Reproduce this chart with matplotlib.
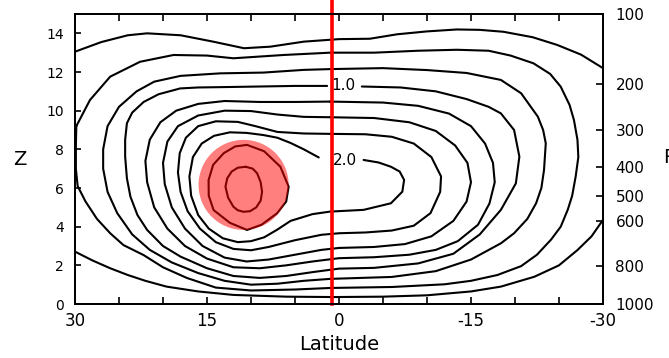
import matplotlib
matplotlib.use("Agg")
import matplotlib.pyplot as plt
from matplotlib.patches import Ellipse
from matplotlib.ticker import MultipleLocator

# contour lines: latitude (deg) and height Z for each level
c025_top_lat = [30, 27, 24, 21.8, 18, 14.3, 10.8, 7.8, 4, 0, -3.5, -6.6, -10, -13.4, -16, -18.7, -22, -24.8, -27.5, -30]
c025_top_z = [13.05, 13.55, 13.9, 14.0, 13.9, 13.57, 13.23, 13.31, 13.57, 13.7, 13.72, 13.95, 14.1, 14.2, 14.18, 14.08, 13.8, 13.4, 12.9, 12.2]

c025_bot_lat = [30, 28, 26, 24, 22, 19.6, 16, 12, 6, 0.6, -5, -10, -15, -18.4, -22.2, -25, -27.1, -28.7, -30]
c025_bot_z = [2.71, 2.25, 1.85, 1.5, 1.2, 0.9, 0.65, 0.47, 0.38, 0.36, 0.38, 0.45, 0.65, 0.9, 1.41, 2.0, 2.79, 3.5, 4.35]

c050_lat = [29.85, 28.3, 26.0, 22.6, 18.8, 15, 12, 6.3, 1, -4, -9, -13.4, -17, -19.5, -22.1, -24, -25.2, -26.2,
            -26.7, -27.1, -27.2, -26.9, -26.5, -26.0, -25.2, -24.1, -22.5, -20.7, -18, -15, -12, -6, 1, 5, 10,
            14, 17.3, 20, 22.2, 24.5, 26.0, 27.5, 28.8, 29.7, 29.9, 29.9, 29.85]
c050_z = [9.2, 10.55, 11.76, 12.53, 12.88, 12.85, 12.71, 12.88, 13.0, 13.0, 13.1, 13.15, 13.1, 12.85, 12.45, 11.9,
          11.24, 10.3, 9.52, 8.5, 7.6, 6.6, 5.6, 4.88, 4.0, 3.33, 2.55, 1.96, 1.5, 1.2, 1.02, 0.88, 0.83, 0.75,
          0.7, 0.85, 1.35, 1.9, 2.53, 3.05, 3.66, 4.4, 5.3, 6.1, 7.0, 8.2, 9.2]

c075_lat = [1, 4, 8.6, 13.5, 18, 21, 23, 25, 26.3, 26.8, 26.8, 26.3, 25.2, 23.5, 21.5, 19, 16, 13, 10, 7, 4, 1,
            -6, -11, -15, -18.4, -19.9, -21.4, -22.4, -23.0, -23.3, -23.5, -23.2, -22.6, -20.7, -18.4, -14.5,
            -10, -5, 1]
c075_z = [12.15, 12.11, 11.97, 11.93, 11.8, 11.5, 11.0, 10.2, 9.2, 8.0, 7.0, 5.8, 4.7, 3.6, 2.8, 2.15, 1.6, 1.2,
          1.0, 1.05, 1.2, 1.3, 1.4, 1.7, 2.3, 3.14, 3.66, 4.4, 5.21, 6.0, 6.93, 8.31, 9.0, 9.69, 10.9, 11.59,
          11.95, 12.1, 12.2, 12.15]

c100_lat = [1.35, 5, 9, 13, 16, 18.05, 20.5, 22.2, 23.5, 24.1, 24.3, 24.3, 24.1, 23.7, 22.9, 21.8, 20, 18, 15,
            12, 9, 6, 3, 0, -4, -9, -13, -16, -18.4, -20.1, -20.5, -19.9, -18.4, -17, -14.5, -11, -7, -2.6]
c100_z = [11.28, 11.28, 11.25, 11.22, 11.2, 11.15, 10.85, 10.45, 9.9, 9.35, 8.5, 7.62, 6.5, 5.55, 4.6, 3.83,
          3.0, 2.45, 1.85, 1.45, 1.35, 1.45, 1.65, 1.83, 1.87, 2.1, 2.6, 3.6, 4.87, 6.24, 7.62, 9.0, 9.86,
          10.2, 10.6, 11.0, 11.2, 11.25]

c125_lat = [1, 5, 9, 13, 16, 18.5, 20.3, 21.5, 22.0, 21.8, 21.0, 19.5, 17.5, 15, 12, 9, 6, 3, 0, -4, -8, -11,
            -13.5, -15.8, -17.1, -17.7, -17.5, -16.6, -15, -12.5, -9, -5, 1]
c125_z = [10.47, 10.45, 10.45, 10.5, 10.35, 10.0, 9.4, 8.5, 7.4, 6.3, 5.0, 3.9, 3.0, 2.35, 1.9, 1.85, 2.0, 2.2,
          2.37, 2.42, 2.55, 2.8, 3.25, 4.1, 5.2, 6.3, 7.3, 8.3, 9.2, 9.85, 10.25, 10.42, 10.47]

c150_lat = [1, 4, 7, 10, 13, 16, 18.3, 19.5, 20.0, 19.8, 19.0, 17.5, 15.5, 13, 10.5, 8, 5, 2, 0, -4, -7.5,
            -10.5, -13, -14.5, -15, -14.6, -13.2, -11, -8, -4, 1]
c150_z = [9.66, 9.68, 9.8, 9.98, 10.0, 9.75, 9.2, 8.4, 7.3, 6.2, 5.0, 3.9, 3.0, 2.4, 2.2, 2.3, 2.55, 2.8, 2.9,
          2.95, 3.1, 3.5, 4.3, 5.3, 6.3, 7.3, 8.2, 8.95, 9.4, 9.62, 9.66]

c175_lat = [1, 4, 7, 9.5, 11.5, 14, 16, 17.4, 18.1, 18.3, 18.0, 17.2, 15.8, 14, 12, 10, 8, 5, 2, 0, -3, -6,
            -8.5, -10.4, -11.5, -11.6, -10.5, -8.5, -6, -3, 1]
c175_z = [8.80, 8.82, 8.9, 9.2, 9.42, 9.45, 9.2, 8.6, 7.8, 6.8, 5.8, 4.8, 3.9, 3.2, 2.85, 2.78, 2.95, 3.3, 3.58,
          3.66, 3.7, 3.8, 4.05, 4.7, 5.8, 6.6, 7.6, 8.3, 8.65, 8.78, 8.80]

c200_lat = [2.3, 4, 5.5, 7, 8.6, 10.5, 12.4, 14.2, 15.6, 16.6, 17.0, 16.8, 16.0, 14.8, 13.2, 11.5, 10, 8.5, 7,
            5.5, 3, 1, -2.8, -5.9, -7.2, -7.4, -6.9, -5.9, -4.5, -2.8]
c200_z = [7.58, 8.0, 8.33, 8.6, 8.74, 8.85, 8.88, 8.7, 8.3, 7.6, 6.6, 5.6, 4.6, 3.9, 3.4, 3.2, 3.25, 3.45, 3.85,
          4.3, 4.65, 4.78, 4.87, 5.21, 5.81, 6.42, 6.85, 7.1, 7.32, 7.45]

c225_lat = [10.45, 8.5, 6.66, 5.72, 6.0, 7.04, 8.8, 10.45, 12.4, 14.25, 14.8, 14.82, 14.3, 13.1, 11.8, 10.45]
c225_z = [8.23, 7.9, 7.1, 6.07, 5.3, 4.69, 4.1, 3.83, 4.2, 4.86, 5.6, 6.41, 7.2, 7.8, 8.15, 8.23]

c250_lat = [10.6, 9.8, 9.3, 8.9, 8.74, 8.9, 9.4, 10.1, 10.85, 11.5, 12.0, 12.6, 12.9, 12.7, 12.2, 11.5, 10.6]
c250_z = [7.1, 7.0, 6.76, 6.3, 5.8, 5.35, 5.0, 4.8, 4.77, 4.85, 5.03, 5.5, 6.07, 6.5, 6.85, 7.05, 7.1]

# contour labels (text, lat, Z)
label_text = ["1.0", "2.0"]
label_lat = [-0.55, -0.65]
label_z = [11.3, 7.42]

# right axis: pressure (mb) and the height it sits at
p_labels = ["100", "200", "300", "400", "500", "600", "800", "1000"]
p_z = [15.0, 11.4, 9.0, 7.1, 5.6, 4.3, 1.97, 0.0]

# highlighted core and the red marker line
core_lat, core_z, core_r_lat = 10.84, 6.16, 5.12
marker_lat = 0.85

lines = [
    (c025_top_lat, c025_top_z), (c025_bot_lat, c025_bot_z), (c050_lat, c050_z), (c075_lat, c075_z),
    (c100_lat, c100_z), (c125_lat, c125_z), (c150_lat, c150_z), (c175_lat, c175_z),
    (c200_lat, c200_z), (c225_lat, c225_z), (c250_lat, c250_z),
]

fig = plt.figure(figsize=(6.69, 3.58), dpi=100)
ax = fig.add_axes([0.1121, 0.1508, 0.7892, 0.8101])
ax.set_xlim(30, -30)
ax.set_ylim(0, 15)

for lat, z in lines:
    ax.plot(lat, z, color="black", lw=1.5, solid_joinstyle="round", solid_capstyle="round")

for t, la, zz in zip(label_text, label_lat, label_z):
    ax.text(la, zz, t, ha="center", va="center", fontsize=11, color="black")

# circle in screen terms -> ellipse in data units
ax_w = 0.7892 * 669
ax_h = 0.8101 * 358
r_z = core_r_lat * (ax_w / 60) / (ax_h / 15)
ax.add_patch(Ellipse((core_lat, core_z), 2 * core_r_lat, 2 * r_z, facecolor="red", alpha=0.5,
                     edgecolor="none", zorder=4))

ax.axvline(marker_lat, ymin=0, ymax=1.05, color="red", lw=2.6, clip_on=False, zorder=6)

ax.set_xticks([30, 15, 0, -15, -30])
ax.set_xticklabels(["30", "15", "0", "-15", "-30"])
ax.xaxis.set_minor_locator(MultipleLocator(5))
ax.tick_params(axis="x", which="both", direction="in", top=True, length=5, width=1.2, labelsize=12, pad=6)
ax.set_yticks(range(0, 15, 2))
ax.tick_params(axis="y", direction="in", length=4, width=1.2, labelsize=10, pad=8)
for s in ax.spines.values():
    s.set_linewidth(1.3)

ax2 = ax.twinx()
ax2.set_ylim(0, 15)
ax2.set_yticks(p_z)
ax2.set_yticklabels(p_labels)
ax2.tick_params(axis="y", direction="in", length=5, width=1.2, labelsize=11, pad=9)
for s in ax2.spines.values():
    s.set_linewidth(1.3)

ax.set_xlabel("Latitude", fontsize=14, labelpad=3)
ax.set_ylabel("Z", rotation=0, fontsize=14, va="center")
ax.yaxis.set_label_coords(-0.104, 0.5)
# axis title on the right runs off the edge of the scan
fig.text(663 / 669, 1 - 158 / 358, "P", ha="left", va="center", fontsize=14)

fig.savefig("out.png", dpi=100)
